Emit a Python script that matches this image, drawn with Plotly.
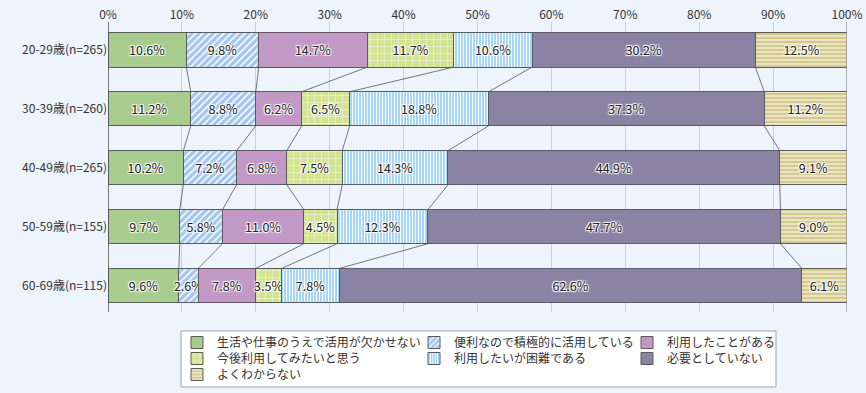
import plotly.graph_objects as go

categories = ["20-29歳(n=265)", "30-39歳(n=260)", "40-49歳(n=265)", "50-59歳(n=155)", "60-69歳(n=115)"]
series_names = [
    "生活や仕事のうえで活用が欠かせない",
    "便利なので積極的に活用している",
    "利用したことがある",
    "今後利用してみたいと思う",
    "利用したいが困難である",
    "必要としていない",
    "よくわからない",
]
s1 = [10.6, 11.2, 10.2, 9.7, 9.6]
s2 = [9.8, 8.8, 7.2, 5.8, 2.6]
s3 = [14.7, 6.2, 6.8, 11.0, 7.8]
s4 = [11.7, 6.5, 7.5, 4.5, 3.5]
s5 = [10.6, 18.8, 14.3, 12.3, 7.8]
s6 = [30.2, 37.3, 44.9, 47.7, 62.6]
s7 = [12.5, 11.2, 9.1, 9.0, 6.1]
tick_vals = [0, 10, 20, 30, 40, 50, 60, 70, 80, 90, 100]
tick_text = ["0%", "10%", "20%", "30%", "40%", "50%", "60%", "70%", "80%", "90%", "100%"]

series = [s1, s2, s3, s4, s5, s6, s7]
styles = [
    dict(color="#A7CC8E", shape="", fg=None, size=6, sol=0.3),
    dict(color="#A3C6EF", shape="/", fg="#FFFFFF", size=5, sol=0.3),
    dict(color="#C198C6", shape="", fg=None, size=6, sol=0.3),
    dict(color="#D3E394", shape="+", fg="#F4F8E6", size=7, sol=0.15),
    dict(color="#A6D6F8", shape="|", fg="#FFFFFF", size=3, sol=0.35),
    dict(color="#8A83A4", shape="", fg=None, size=6, sol=0.3),
    dict(color="#D2C890", shape="-", fg="#F1ECCC", size=4, sol=0.4),
]

BAR_W = 0.58
FONT = "Noto Sans CJK JP"
halo = "1px 1px 1px #fff, -1px -1px 1px #fff, 1px -1px 1px #fff, -1px 1px 1px #fff"

PLOT_TOP, PLOT_BOTTOM, PLOT_LEFT, PLOT_RIGHT = 22, 312, 108, 847
PH = PLOT_BOTTOM - PLOT_TOP
PW = PLOT_RIGHT - PLOT_LEFT


def px_x(x):
    return (x - PLOT_LEFT) / PW


def px_y(y):
    return (PLOT_BOTTOM - y) / PH


# legend placement (pixel positions of each legend entry: left, top)
legend_pos = [(177, 328), (414, 328), (627, 328), (177, 344), (414, 344), (627, 344), (177, 360)]
legend_ids = ["legend"] + [f"legend{i}" for i in range(2, 8)]

ypos = list(range(len(categories)))
fig = go.Figure()

for name, vals, st, lg in zip(series_names, series, styles, legend_ids):
    pattern = dict(shape=st["shape"])
    if st["shape"]:
        pattern.update(fgcolor=st["fg"], bgcolor=st["color"], size=st["size"], solidity=st["sol"], fillmode="replace")
    fig.add_trace(go.Bar(
        y=ypos, x=vals, name=name, orientation="h", width=BAR_W,
        marker=dict(color=st["color"], line=dict(color="#5A5A5A", width=1), pattern=pattern),
        text=[f"{v:.1f}%" for v in vals], textposition="inside", insidetextanchor="middle",
        textangle=0, constraintext="none",
        textfont=dict(family=FONT, size=12.5, color="#222222", shadow=halo),
        legend=lg, hoverinfo="x+name",
    ))

# connector lines between stacked boundaries
cx, cy = [], []
cums = []
for r in range(len(categories)):
    acc = 0
    row = []
    for s in series[:-1]:
        acc += s[r]
        row.append(acc)
    cums.append(row)
for r in range(len(categories) - 1):
    for k in range(len(series) - 1):
        cx += [cums[r][k], cums[r + 1][k], None]
        cy += [r + BAR_W / 2, r + 1 - BAR_W / 2, None]
fig.add_trace(go.Scatter(x=cx, y=cy, mode="lines", line=dict(color="#555555", width=0.8),
                         showlegend=False, hoverinfo="skip"))

bg = "#EEF4FC"
leg_common = dict(orientation="v", xref="paper", yref="paper", yanchor="top", xanchor="left",
                  bgcolor="rgba(0,0,0,0)", font=dict(family=FONT, size=12, color="#333333"),
                  itemwidth=30, tracegroupgap=0, traceorder="normal")
legends = {}
for lg, (lx, ly) in zip(legend_ids, legend_pos):
    legends[lg] = dict(x=px_x(lx), y=px_y(ly), **leg_common)

fig.update_layout(
    width=866, height=393,
    margin=dict(l=PLOT_LEFT, r=866 - PLOT_RIGHT, t=PLOT_TOP, b=393 - PLOT_BOTTOM, autoexpand=False),
    paper_bgcolor=bg, plot_bgcolor=bg,
    barmode="stack", bargap=0.4,
    font=dict(family=FONT, size=12, color="#333333"),
    xaxis=dict(range=[0, 100], side="top", tickvals=tick_vals, ticktext=tick_text,
               showgrid=True, gridcolor="#CFCFCF", gridwidth=1,
               zeroline=True, zerolinecolor="#777777", zerolinewidth=1,
               showline=False, ticks="", tickfont=dict(size=12, color="#333333", family=FONT)),
    yaxis=dict(range=[4.45, -0.475], tickvals=ypos, ticktext=categories, showgrid=False,
               zeroline=False, showline=False, ticks="",
               tickfont=dict(size=12, color="#333333", family=FONT)),
    showlegend=True,
    **legends,
)
# right frame line at 100%
fig.add_shape(type="line", xref="x", yref="paper", x0=tick_vals[-1], x1=tick_vals[-1], y0=0, y1=1,
              line=dict(color="#777777", width=1), layer="above")
# legend box
fig.add_shape(type="rect", xref="paper", yref="paper",
              x0=px_x(181), x1=px_x(776), y0=px_y(387), y1=px_y(331),
              line=dict(color="#A0A0A0", width=1), fillcolor="#FFFFFF", layer="below")

fig.write_html("out.html", config={"displayModeBar": False},
               post_script="document.body.style.margin='0';")
